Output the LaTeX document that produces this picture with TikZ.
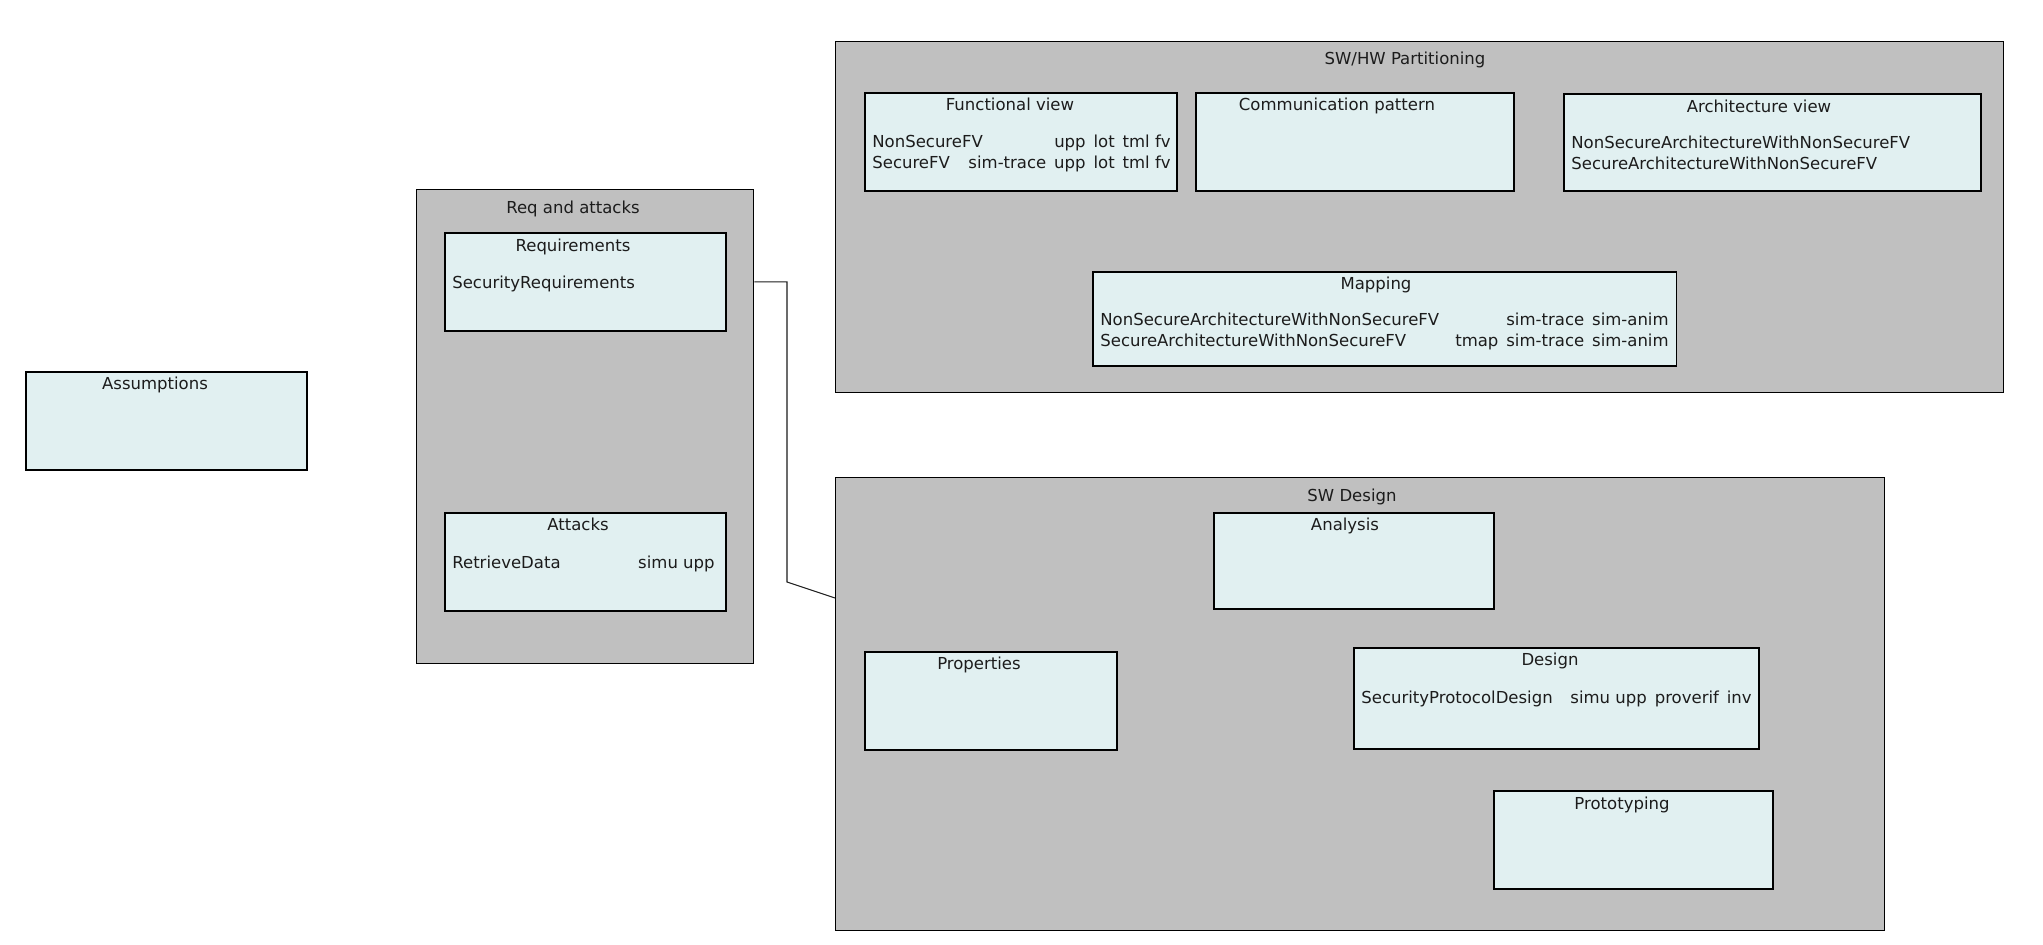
\documentclass[tikz,border=0pt]{standalone}
\usepackage{fontspec}
\setmainfont{DejaVu Sans}
\definecolor{boxfill}{RGB}{225,240,241}
\definecolor{groupfill}{RGB}{192,192,192}
\definecolor{inkcol}{RGB}{28,28,28}
\newcommand{\tgap}{\hspace{4.5pt}}
\usetikzlibrary{positioning}

\tikzset{
  group/.style={draw=black, line width=0.8pt, fill=groupfill, anchor=north west, inner sep=0pt},
  panel/.style={draw=black, line width=0.9pt, fill=boxfill, anchor=north west, inner sep=0pt, minimum width=5.62cm, minimum height=1.96cm},
  title/.style={anchor=base, inner sep=0pt, text=inkcol},
  entry/.style={anchor=base west, inner sep=0pt, text=inkcol},
  tags/.style={anchor=base east, inner sep=0pt, text=inkcol},
  link/.style={draw=inkcol, line width=0.6pt}
}

\begin{document}
\begin{tikzpicture}[x=0.02cm, y=-0.02cm, font=\fontsize{9.4}{12.5}\selectfont]
	\useasboundingbox (0,0) rectangle (2043,944);

	% containers
	\node[group, minimum width=6.74cm, minimum height=9.48cm] (reqatt) at (416,189) {};
	\node[group, minimum width=23.36cm, minimum height=7.02cm] (swhw) at (835,41) {};
	\node[group, minimum width=20.98cm, minimum height=9.06cm] (swd) at (835,477) {};
	\node[title] (reqatt-t) at (573,213) {Req and attacks};
	\node[title] (swhw-t) at (1405,64) {SW/HW Partitioning};
	\node[title] (swd-t) at (1352,501) {SW Design};

	% diagrams
	\node[panel] (assum) at (25,371) {};
	\node[panel] (req) at (444,232) {};
	\node[panel] (att) at (444,512) {};
	\node[panel, minimum width=6.24cm] (func) at (864,92) {};
	\node[panel, minimum width=6.36cm] (comm) at (1195,92) {};
	\node[panel, minimum width=8.34cm, minimum height=1.94cm] (arch) at (1563,93) {};
	\node[panel, minimum width=11.68cm, minimum height=1.88cm] (map) at (1092,271) {};
	\node[panel, minimum width=5.6cm, minimum height=1.92cm] (ana) at (1213,512) {};
	\node[panel, minimum width=5.04cm] (prop) at (864,651) {};
	\node[panel, minimum width=8.1cm, minimum height=2.02cm] (des) at (1353,647) {};
	\node[panel, minimum width=5.58cm] (proto) at (1493,790) {};

	\node[title] (assum-t) at (155,389) {Assumptions};
	\node[title] (req-t) at (573,251) {Requirements};
	\node[title] (att-t) at (578,530) {Attacks};
	\node[title] (func-t) at (1010,110) {Functional view};
	\node[title] (comm-t) at (1337,110) {Communication pattern};
	\node[title] (arch-t) at (1759,112) {Architecture view};
	\node[title] (map-t) at (1376,289) {Mapping};
	\node[title] (ana-t) at (1345,530) {Analysis};
	\node[title] (prop-t) at (979,669) {Properties};
	\node[title] (des-t) at (1550,665) {Design};
	\node[title] (proto-t) at (1622,809) {Prototyping};

	% contents
	\node[entry] (req-c) at (452,288) {SecurityRequirements};
	\node[entry] (att-c) at (452,568) {RetrieveData};
	\node[tags] (att-v) at (715,568) {simu upp};
	\node[entry] (func-c) at (872,147) {\begin{tabular}[t]{@{}l@{}}NonSecureFV\\ SecureFV\end{tabular}};
	\node[tags] (func-v) at (1171,147) {\begin{tabular}[t]{@{}r@{}}upp\tgap lot\tgap tml fv\\ sim-trace\tgap upp\tgap lot\tgap tml fv\end{tabular}};
	\node[entry] (arch-c) at (1571,148) {\begin{tabular}[t]{@{}l@{}}NonSecureArchitectureWithNonSecureFV\\ SecureArchitectureWithNonSecureFV\end{tabular}};
	\node[entry] (map-c) at (1100,325) {\begin{tabular}[t]{@{}l@{}}NonSecureArchitectureWithNonSecureFV\\ SecureArchitectureWithNonSecureFV\end{tabular}};
	\node[tags] (map-v) at (1669,325) {\begin{tabular}[t]{@{}r@{}}sim-trace\tgap sim-anim\\ tmap\tgap sim-trace\tgap sim-anim\end{tabular}};
	\node[entry] (des-c) at (1361,703) {SecurityProtocolDesign};
	\node[tags] (des-v) at (1752,703) {simu upp\tgap proverif\tgap inv};

	% link
	\coordinate (bend) at (787,582);
	\draw[link] (reqatt.east |- req.east) -| (bend) -- ([yshift=-2.42cm]swd.north west);
\end{tikzpicture}
\end{document}
